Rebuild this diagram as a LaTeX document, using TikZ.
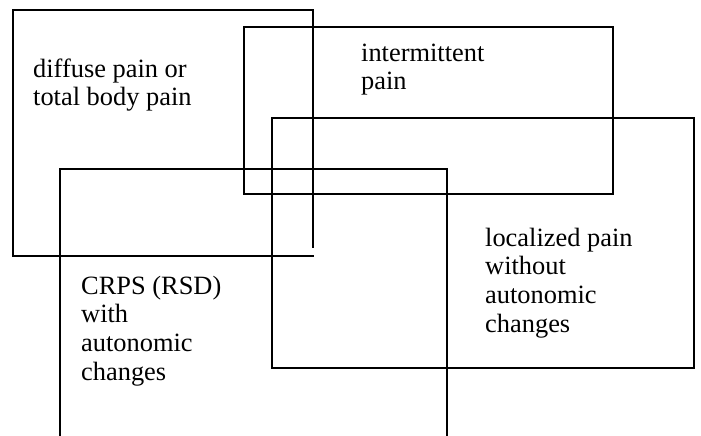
\documentclass[tikz,border=0pt]{standalone}
\usepackage{fontspec}
\setmainfont{Liberation Serif}
\begin{document}
\begin{tikzpicture}[x=1pt,y=-1pt,
  box/.style={line width=1.8pt,line cap=rect},
  lbl/.style={anchor=base west,align=left,inner sep=0pt,font=\fontsize{26.4}{28.8}\selectfont}]
\useasboundingbox (0,0) rectangle (701,436);
% rectangle A (diffuse pain)
\draw[box] (313,247) -- (313,10) -- (13,10) -- (13,256) -- (313,256);
% rectangle B (intermittent)
\draw[box] (244,27) rectangle (613,194);
% rectangle C (localized)
\draw[box] (272,118) rectangle (694,368);
% rectangle D (CRPS), open at the bottom
\draw[box] (60,437) -- (60,169) -- (447,169) -- (447,437);
% labels (anchored at the baseline of their last line)
\node[lbl] (diffuse) at (33,105.8) {diffuse pain or\\total body pain};
\node[lbl] (intermittent) at (361,89.8) {intermittent\\pain};
\node[lbl] (localized) at (485,332.4) {localized pain\\without\\autonomic\\changes};
\node[lbl] (crps) at (81,380.4) {CRPS (RSD)\\with\\autonomic\\changes};
\end{tikzpicture}
\end{document}
